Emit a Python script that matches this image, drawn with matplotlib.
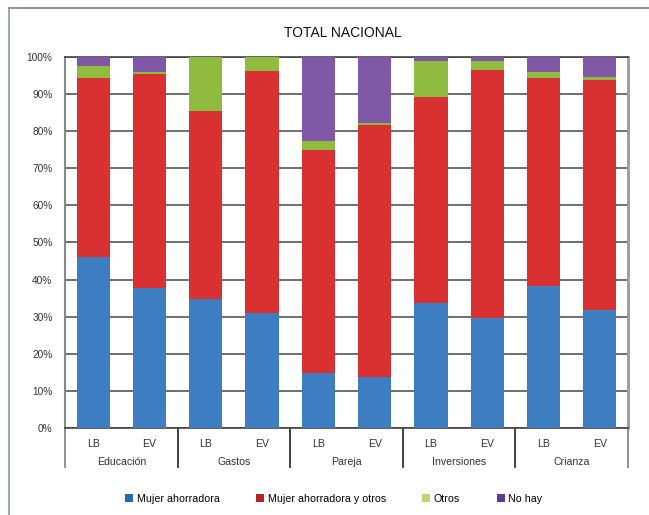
import matplotlib.pyplot as plt
from matplotlib.patches import Patch
from matplotlib.lines import Line2D
import numpy as np

plt.rcParams["font.family"] = ["Liberation Sans", "DejaVu Sans"]

# -----------------------------
# Data (percent of respondents)
# -----------------------------

groups = ["Educación", "Gastos", "Pareja", "Inversiones", "Crianza"]
periods = ["LB", "EV"]

mujer = [46.1, 37.8, 34.8, 31.0, 14.8, 13.7, 33.7, 29.7, 38.4, 31.8]
mujer_otros = [48.2, 57.7, 50.6, 65.2, 60.1, 68.0, 55.5, 66.8, 55.9, 62.0]
otros = [3.3, 0.5, 14.6, 3.8, 2.5, 0.5, 9.7, 2.4, 1.7, 0.8]
no_hay = [2.4, 4.0, 0.0, 0.0, 22.6, 17.8, 1.1, 1.1, 4.0, 5.4]

series_names = ["Mujer ahorradora", "Mujer ahorradora y otros", "Otros", "No hay"]
bar_colors = ["#3d7ec2", "#d93131", "#8fbc3f", "#8058a6"]
legend_colors = ["#2468b4", "#b42424", "#b8da6a", "#5e3b91"]

# -----------------------------
# Figure
# -----------------------------

fig = plt.figure(figsize=(6.49, 5.15), dpi=100)
ax = fig.add_axes([0.1002, 0.169, 0.8674, 0.7203])

x = np.arange(len(mujer))
bottom = np.zeros(len(mujer))
for vals, col in zip([mujer, mujer_otros, otros, no_hay], bar_colors):
    ax.bar(x, vals, bottom=bottom, width=0.59, color=col, zorder=3)
    bottom += np.array(vals)

ax.set_xlim(-0.5, len(mujer) - 0.5)
ax.set_ylim(0, 100)
ax.set_yticks(np.arange(0, 101, 10))
ax.set_yticklabels([f"{v}%" for v in range(0, 101, 10)])
ax.yaxis.grid(True, color="#555555", linewidth=1.2, zorder=0)
ax.tick_params(axis="y", length=0, pad=9, labelsize=7.3, labelcolor="#333333")

ax.set_xticks(x)
ax.set_xticklabels(periods * len(groups))
ax.tick_params(axis="x", length=0, pad=8, labelsize=7.6, labelcolor="#333333")

for side in ["top", "bottom"]:
    ax.spines[side].set_color("#444444")
    ax.spines[side].set_linewidth(1.2)
ax.spines["left"].set_color("#888888")
ax.spines["left"].set_linewidth(1.5)
ax.spines["right"].set_color("#999999")
ax.spines["right"].set_linewidth(2)

# group separators and names below the axis
trans = ax.get_xaxis_transform()
for b in np.arange(-0.5, len(mujer), 2):
    col = "#888888" if b in (-0.5, len(mujer) - 0.5) else "#333333"
    ax.add_line(Line2D([b, b], [0, -0.106], transform=trans, color=col,
                       linewidth=1.3, clip_on=False))
for i, g in enumerate(groups):
    ax.text(2 * i + 0.5, -0.091, g, transform=trans, ha="center", va="center",
            fontsize=7.6, color="#333333")

fig.text(0.528, 0.936, "TOTAL NACIONAL", ha="center", va="center",
         fontsize=10, color="#111111")

handles = [Patch(facecolor=c) for c in legend_colors]
fig.legend(handles, series_names, loc="center", bbox_to_anchor=(0.514, 0.031),
           ncol=4, frameon=False, fontsize=7.7, handlelength=0.75,
           handleheight=0.75, handletextpad=0.35, columnspacing=3.4)

# outer frame
fig.add_artist(Line2D([8.5 / 649, 8.5 / 649], [0, 1 - 8 / 515],
                      transform=fig.transFigure, color="#8ea3bd", linewidth=1.3))
fig.add_artist(Line2D([8.5 / 649, 1], [1 - 8 / 515, 1 - 8 / 515],
                      transform=fig.transFigure, color="#7d90a8", linewidth=1.3))

fig.savefig("out.png", dpi=100)
